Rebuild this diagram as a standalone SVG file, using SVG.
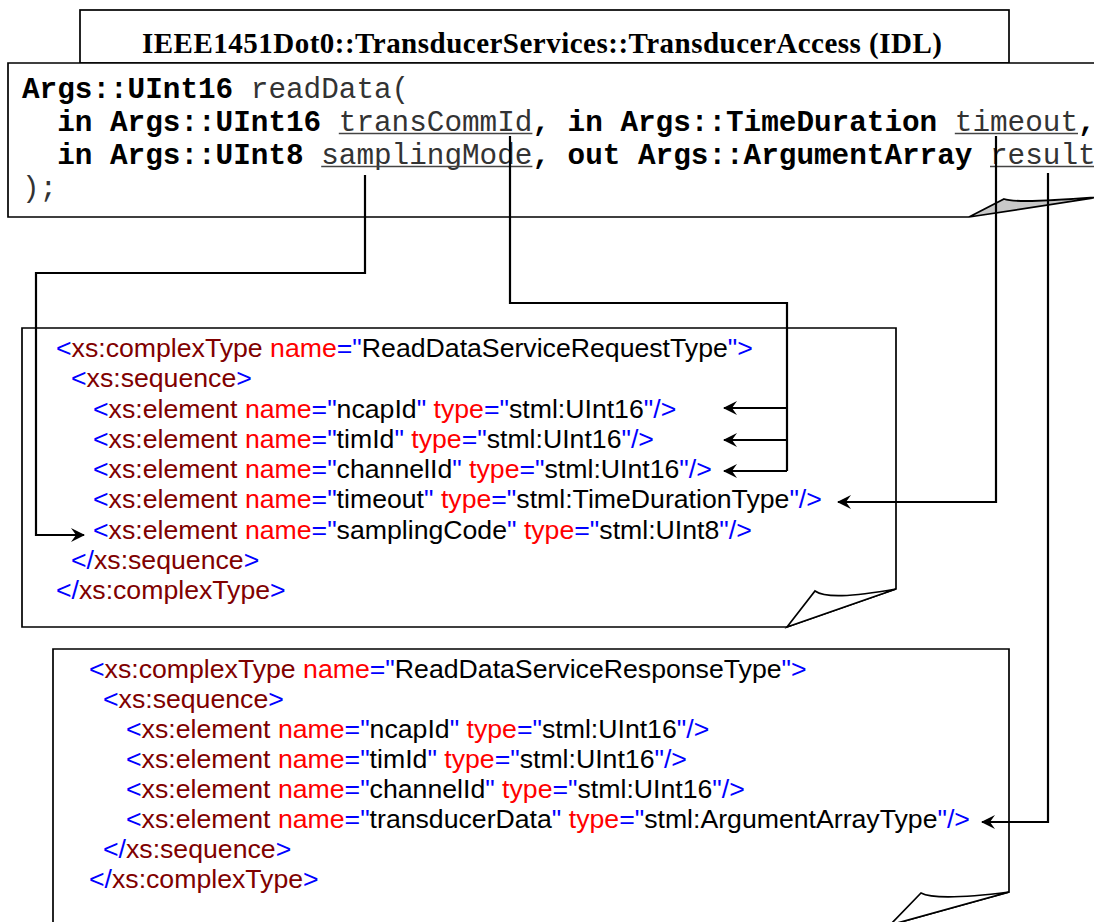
<svg xmlns="http://www.w3.org/2000/svg" width="1094" height="922" viewBox="0 0 1094 922">
<defs>
<style>
.box{fill:#fff;stroke:#000;stroke-width:1.7}
.curl{fill:#fff;stroke:#000;stroke-width:1.7;stroke-linejoin:miter}
.gcurl{fill:#c8c8c8;stroke:#000;stroke-width:1.7}
.title{font-family:"Liberation Serif","Times New Roman",serif;font-weight:bold;font-size:29px;fill:#000}
.mono{font-family:"Liberation Mono","Courier New",monospace;font-size:29.33px;fill:#333;white-space:pre}
.mb{font-weight:bold;fill:#000}
.ul{stroke:#444;stroke-width:1.3}
.xml{font-family:"Liberation Sans",Arial,sans-serif;font-size:26.67px;white-space:pre}
.b{fill:#0000ff}
.m{fill:#800000}
.r{fill:#ff0000}
.k{fill:#000}
.conn{fill:none;stroke:#000;stroke-width:2.2;stroke-linejoin:miter}
</style>
<marker id="arr" markerUnits="userSpaceOnUse" markerWidth="16" markerHeight="16" refX="13" refY="7" orient="auto" overflow="visible">
<path d="M0,0 L14,7 L0,14 L5,7 Z" fill="#000"/>
</marker>
</defs>
<rect width="1094" height="922" fill="#fff"/>

<g id="title">
<rect class="box" x="80" y="10" width="929" height="53"/>
<text class="title" x="142" y="53" textLength="800">IEEE1451Dot0::TransducerServices::TransducerAccess (IDL)</text>
</g>

<g id="idl">
<path class="box" d="M1100,63 H8 V217 H969"/>
<path class="gcurl" d="M969,217 L1004,199 C1015,203 1050,201 1100,197 L969,217 Z"/>
<text class="mono" x="22" y="97.5"><tspan class="mb">Args::UInt16</tspan> readData(</text>
<text class="mono" x="57.2" y="130.5"><tspan class="mb">in Args::UInt16</tspan> transCommId<tspan class="mb">,</tspan> <tspan class="mb">in Args::TimeDuration</tspan> timeout<tspan class="mb">,</tspan></text>
<text class="mono" x="57.2" y="163.5"><tspan class="mb">in Args::UInt8</tspan> samplingMode<tspan class="mb">,</tspan> <tspan class="mb">out Args::ArgumentArray</tspan> result</text>
<text class="mono" x="22" y="196.5">);</text>
<line class="ul" x1="338.8" y1="133.5" x2="532.4" y2="133.5"/>
<line class="ul" x1="954.8" y1="133.5" x2="1078" y2="133.5"/>
<line class="ul" x1="321.2" y1="166.5" x2="532.4" y2="166.5"/>
<line class="ul" x1="990" y1="166.5" x2="1096" y2="166.5"/>
</g>

<g id="request">
<path class="box" d="M22,328 H896 V589 L787,627 H22 Z"/>
<path class="curl" d="M787,627 L815,591 C825,598 850,597 896,589 Z"/>
<text class="xml" x="56" y="357"><tspan class="b">&lt;</tspan><tspan class="m">xs:complexType</tspan><tspan class="r"> name</tspan><tspan class="b">="</tspan><tspan class="k">ReadDataServiceRequestType</tspan><tspan class="b">"&gt;</tspan></text>
<text class="xml" x="71" y="387.25"><tspan class="b">&lt;</tspan><tspan class="m">xs:sequence</tspan><tspan class="b">&gt;</tspan></text>
<text class="xml" x="93" y="417.5"><tspan class="b">&lt;</tspan><tspan class="m">xs:element</tspan><tspan class="r"> name</tspan><tspan class="b">="</tspan><tspan class="k">ncapId</tspan><tspan class="b">"</tspan><tspan class="r"> type</tspan><tspan class="b">="</tspan><tspan class="k">stml:UInt16</tspan><tspan class="b">"/&gt;</tspan></text>
<text class="xml" x="93" y="447.75"><tspan class="b">&lt;</tspan><tspan class="m">xs:element</tspan><tspan class="r"> name</tspan><tspan class="b">="</tspan><tspan class="k">timId</tspan><tspan class="b">"</tspan><tspan class="r"> type</tspan><tspan class="b">="</tspan><tspan class="k">stml:UInt16</tspan><tspan class="b">"/&gt;</tspan></text>
<text class="xml" x="93" y="478"><tspan class="b">&lt;</tspan><tspan class="m">xs:element</tspan><tspan class="r"> name</tspan><tspan class="b">="</tspan><tspan class="k">channelId</tspan><tspan class="b">"</tspan><tspan class="r"> type</tspan><tspan class="b">="</tspan><tspan class="k">stml:UInt16</tspan><tspan class="b">"/&gt;</tspan></text>
<text class="xml" x="93" y="508.25"><tspan class="b">&lt;</tspan><tspan class="m">xs:element</tspan><tspan class="r"> name</tspan><tspan class="b">="</tspan><tspan class="k">timeout</tspan><tspan class="b">"</tspan><tspan class="r"> type</tspan><tspan class="b">="</tspan><tspan class="k">stml:TimeDurationType</tspan><tspan class="b">"/&gt;</tspan></text>
<text class="xml" x="93" y="538.5"><tspan class="b">&lt;</tspan><tspan class="m">xs:element</tspan><tspan class="r"> name</tspan><tspan class="b">="</tspan><tspan class="k">samplingCode</tspan><tspan class="b">"</tspan><tspan class="r"> type</tspan><tspan class="b">="</tspan><tspan class="k">stml:UInt8</tspan><tspan class="b">"/&gt;</tspan></text>
<text class="xml" x="71" y="568.75"><tspan class="b">&lt;/</tspan><tspan class="m">xs:sequence</tspan><tspan class="b">&gt;</tspan></text>
<text class="xml" x="56" y="599"><tspan class="b">&lt;/</tspan><tspan class="m">xs:complexType</tspan><tspan class="b">&gt;</tspan></text>
</g>

<g id="response">
<path class="box" d="M53,649 H1009 V892 L890,925 H53 Z"/>
<path class="curl" d="M890,925 L921,893 C932,899 962,898 1009,892 Z"/>
<text class="xml" x="89" y="678"><tspan class="b">&lt;</tspan><tspan class="m">xs:complexType</tspan><tspan class="r"> name</tspan><tspan class="b">="</tspan><tspan class="k">ReadDataServiceResponseType</tspan><tspan class="b">"&gt;</tspan></text>
<text class="xml" x="103" y="708"><tspan class="b">&lt;</tspan><tspan class="m">xs:sequence</tspan><tspan class="b">&gt;</tspan></text>
<text class="xml" x="126" y="738"><tspan class="b">&lt;</tspan><tspan class="m">xs:element</tspan><tspan class="r"> name</tspan><tspan class="b">="</tspan><tspan class="k">ncapId</tspan><tspan class="b">"</tspan><tspan class="r"> type</tspan><tspan class="b">="</tspan><tspan class="k">stml:UInt16</tspan><tspan class="b">"/&gt;</tspan></text>
<text class="xml" x="126" y="768"><tspan class="b">&lt;</tspan><tspan class="m">xs:element</tspan><tspan class="r"> name</tspan><tspan class="b">="</tspan><tspan class="k">timId</tspan><tspan class="b">"</tspan><tspan class="r"> type</tspan><tspan class="b">="</tspan><tspan class="k">stml:UInt16</tspan><tspan class="b">"/&gt;</tspan></text>
<text class="xml" x="126" y="798"><tspan class="b">&lt;</tspan><tspan class="m">xs:element</tspan><tspan class="r"> name</tspan><tspan class="b">="</tspan><tspan class="k">channelId</tspan><tspan class="b">"</tspan><tspan class="r"> type</tspan><tspan class="b">="</tspan><tspan class="k">stml:UInt16</tspan><tspan class="b">"/&gt;</tspan></text>
<text class="xml" x="126" y="828"><tspan class="b">&lt;</tspan><tspan class="m">xs:element</tspan><tspan class="r"> name</tspan><tspan class="b">="</tspan><tspan class="k">transducerData</tspan><tspan class="b">"</tspan><tspan class="r"> type</tspan><tspan class="b">="</tspan><tspan class="k">stml:ArgumentArrayType</tspan><tspan class="b">"/&gt;</tspan></text>
<text class="xml" x="103" y="858"><tspan class="b">&lt;/</tspan><tspan class="m">xs:sequence</tspan><tspan class="b">&gt;</tspan></text>
<text class="xml" x="89" y="888"><tspan class="b">&lt;/</tspan><tspan class="m">xs:complexType</tspan><tspan class="b">&gt;</tspan></text>
</g>

<g id="connectors">
<path class="conn" d="M365,175 V273 H36 V535 H84" marker-end="url(#arr)"/>
<path class="conn" d="M510,136 V303 H787 V471"/>
<path class="conn" d="M787,408 H724" marker-end="url(#arr)"/>
<path class="conn" d="M787,440 H724" marker-end="url(#arr)"/>
<path class="conn" d="M787,471 H724" marker-end="url(#arr)"/>
<path class="conn" d="M996,136 V502 H838" marker-end="url(#arr)"/>
<path class="conn" d="M1048,173 V822 H982" marker-end="url(#arr)"/>
</g>
</svg>
